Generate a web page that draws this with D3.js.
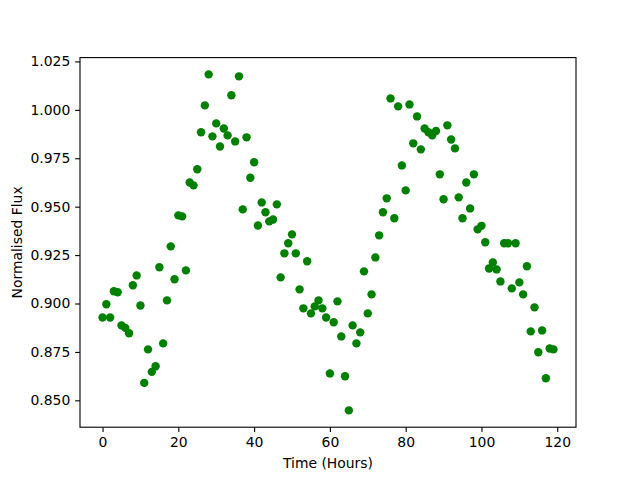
<!DOCTYPE html>
<html>
<head>
<meta charset="utf-8">
<script src="https://cdn.jsdelivr.net/npm/d3@7"></script>
<style>
	body { margin: 0; background: #fff; }
	svg text { font-family: "DejaVu Sans", sans-serif; fill: #000; }
</style>
</head>
<body>
<div id="chart"></div>
<script>
// Time of each observation (hours)
const hours = [
	0, 1, 2, 3, 4, 5, 6, 7, 8, 9,
	10, 11, 12, 13, 14, 15, 16, 17, 18, 19,
	20, 21, 22, 23, 24, 25, 26, 27, 28, 29,
	30, 31, 32, 33, 34, 35, 36, 37, 38, 39,
	40, 41, 42, 43, 44, 45, 46, 47, 48, 49,
	50, 51, 52, 53, 54, 55, 56, 57, 58, 59,
	60, 61, 62, 63, 64, 65, 66, 67, 68, 69,
	70, 71, 72, 73, 74, 75, 76, 77, 78, 79,
	80, 81, 82, 83, 84, 85, 86, 87, 88, 89,
	90, 91, 92, 93, 94, 95, 96, 97, 98, 99,
	100, 101, 102, 103, 104, 105, 106, 107, 108, 109,
	110, 111, 112, 113, 114, 115, 116, 117, 118, 119
];
// Normalised flux readings
const flux = [
	0.8928, 0.8996, 0.8928, 0.9063, 0.9058, 0.8887, 0.8874, 0.8846, 0.9094, 0.9145,
	0.8990, 0.8590, 0.8763, 0.8647, 0.8676, 0.9187, 0.8794, 0.9016, 0.9295, 0.9125,
	0.9455, 0.9450, 0.9171, 0.9625, 0.9610, 0.9693, 0.9884, 1.0023, 1.0183, 0.9863,
	0.9930, 0.9811, 0.9904, 0.9868, 1.0075, 0.9837, 1.0173, 0.9486, 0.9858, 0.9649,
	0.9729, 0.9403, 0.9522, 0.9471, 0.9424, 0.9434, 0.9512, 0.9135, 0.9259, 0.9311,
	0.9357, 0.9259, 0.9073, 0.8975, 0.9218, 0.8949, 0.8985, 0.9016, 0.8975, 0.8928,
	0.8639, 0.8903, 0.9011, 0.8830, 0.8624, 0.8448, 0.8887, 0.8794, 0.8851, 0.9166,
	0.8949, 0.9047, 0.9238, 0.9352, 0.9471, 0.9543, 1.0059, 0.9440, 1.0018, 0.9713,
	0.9584, 1.0028, 0.9827, 0.9966, 0.9796, 0.9904, 0.9884, 0.9868, 0.9891, 0.9667,
	0.9538, 0.9920, 0.9847, 0.9801, 0.9548, 0.9440, 0.9625, 0.9491, 0.9667, 0.9383,
	0.9401, 0.9316, 0.9181, 0.9212, 0.9176, 0.9114, 0.9311, 0.9311, 0.9078, 0.9311,
	0.9109, 0.9047, 0.9192, 0.8856, 0.8980, 0.8748, 0.8861, 0.8614, 0.8768, 0.8763
];
const xTicks = [0, 20, 40, 60, 80, 100, 120];
const yTicks = [0.850, 0.875, 0.900, 0.925, 0.950, 0.975, 1.000, 1.025];

const fullWidth = 640, fullHeight = 480;
const margin = { top: 57.6, right: 64, bottom: 52.8, left: 80 };
const width = fullWidth - margin.left - margin.right;
const height = fullHeight - margin.top - margin.bottom;
const tickLen = 4.86, tickPad = 4.86;

const points = hours.map((h, i) => ({ x: h, y: flux[i] }));

// matplotlib-style 5% margins
function padded(values) {
	const [lo, hi] = d3.extent(values);
	const m = (hi - lo) * 0.05;
	return [lo - m, hi + m];
}

const x = d3.scaleLinear().domain(padded(hours)).range([0, width]);
const y = d3.scaleLinear().domain(padded(flux)).range([height, 0]);

const svg = d3.select("#chart")
	.append("svg")
	.attr("width", fullWidth)
	.attr("height", fullHeight);

const g = svg.append("g")
	.attr("transform", "translate(" + margin.left + "," + margin.top + ")");

// points
g.append("g")
	.selectAll("circle")
	.data(points)
	.enter()
	.append("circle")
	.attr("cx", d => x(d.x))
	.attr("cy", d => y(d.y))
	.attr("r", 4.2)
	.attr("fill", "#008000");

// X axis
const xAxis = d3.axisBottom(x)
	.tickValues(xTicks)
	.tickFormat(d3.format("d"))
	.tickSizeInner(tickLen)
	.tickSizeOuter(0)
	.tickPadding(tickPad);
const xg = g.append("g")
	.attr("transform", "translate(0," + height + ")")
	.call(xAxis);
xg.select(".domain").remove();

// Y axis
const yAxis = d3.axisLeft(y)
	.tickValues(yTicks)
	.tickFormat(d3.format(".3f"))
	.tickSizeInner(tickLen)
	.tickSizeOuter(0)
	.tickPadding(tickPad);
const yg = g.append("g").call(yAxis);
yg.select(".domain").remove();

[xg, yg].forEach(a => {
	a.selectAll(".tick line").attr("stroke", "#000").attr("stroke-width", 1.1);
	a.selectAll(".tick text")
		.style("font-family", "'DejaVu Sans', sans-serif")
		.style("font-size", "13.9px")
		.attr("fill", "#000");
});

// frame
g.append("rect")
	.attr("width", width)
	.attr("height", height)
	.attr("fill", "none")
	.attr("stroke", "#000")
	.attr("stroke-width", 1.1);

// axis labels
svg.append("text")
	.attr("x", margin.left + width / 2)
	.attr("y", 468)
	.attr("text-anchor", "middle")
	.style("font-size", "13.9px")
	.text("Time (Hours)");

svg.append("text")
	.attr("transform", "translate(22," + (margin.top + height / 2) + ") rotate(-90)")
	.attr("text-anchor", "middle")
	.style("font-size", "13.9px")
	.text("Normalised Flux");
</script>
</body>
</html>
